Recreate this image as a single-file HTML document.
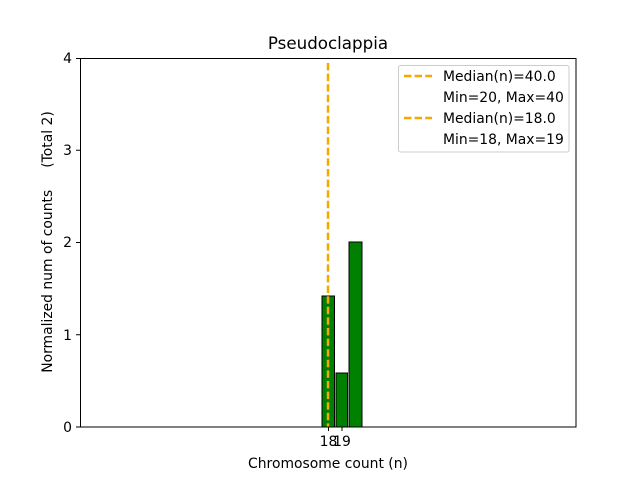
<!DOCTYPE html>
<html><head><style>body{margin:0;background:#fff}</style></head><body>
<svg width="640" height="480" xmlns="http://www.w3.org/2000/svg" font-family="DejaVu Sans, Liberation Sans, sans-serif" font-size="13.9">
<rect width="640" height="480" fill="#fff"/>
<rect x="322" y="296" width="12.5" height="131" fill="#008000" stroke="#000" stroke-width="1"/>
<rect x="336" y="373" width="11.5" height="54" fill="#008000" stroke="#000" stroke-width="1"/>
<rect x="349" y="242" width="13" height="185" fill="#008000" stroke="#000" stroke-width="1"/>
<line x1="328" y1="63" x2="328" y2="427" stroke="#f5a800" stroke-width="2.5" stroke-dasharray="7.4,3.2"/>
<rect x="80.5" y="58.5" width="495.5" height="368.5" fill="none" stroke="#000" stroke-width="1"/>
<g stroke="#000">
<line x1="76" y1="427" x2="80" y2="427"/><line x1="76" y1="334.75" x2="80" y2="334.75"/>
<line x1="76" y1="242.5" x2="80" y2="242.5"/><line x1="76" y1="150.25" x2="80" y2="150.25"/>
<line x1="76" y1="58.5" x2="80" y2="58.5"/>
<line x1="328.5" y1="427" x2="328.5" y2="431"/><line x1="342" y1="427" x2="342" y2="431"/>
</g>
<g text-anchor="end">
<text x="72" y="432">0</text><text x="72" y="340">1</text><text x="72" y="247">2</text>
<text x="72" y="155">3</text><text x="72" y="63">4</text>
</g>
<text x="328.5" y="446" text-anchor="middle">18</text>
<text x="342" y="446" text-anchor="middle">19</text>
<text x="328" y="468" text-anchor="middle">Chromosome count (n)</text>
<text x="328" y="49" text-anchor="middle" font-size="16.7">Pseudoclappia</text>
<text transform="translate(52,242) rotate(-90)" text-anchor="middle" style="white-space:pre" xml:space="preserve">Normalized num of counts     (Total 2)</text>
<rect x="398.5" y="65.5" width="170.5" height="86.5" fill="#fff" fill-opacity="0.8" stroke="#ccc" rx="2"/>
<g stroke="#f5a800" stroke-width="2.5" stroke-dasharray="7.4,3.2">
<line x1="404" y1="76" x2="432" y2="76"/><line x1="404" y1="118" x2="432" y2="118"/>
</g>
<text x="443" y="81">Median(n)=40.0</text>
<text x="443" y="102">Min=20, Max=40</text>
<text x="443" y="123">Median(n)=18.0</text>
<text x="443" y="144">Min=18, Max=19</text>
</svg>
</body></html>
